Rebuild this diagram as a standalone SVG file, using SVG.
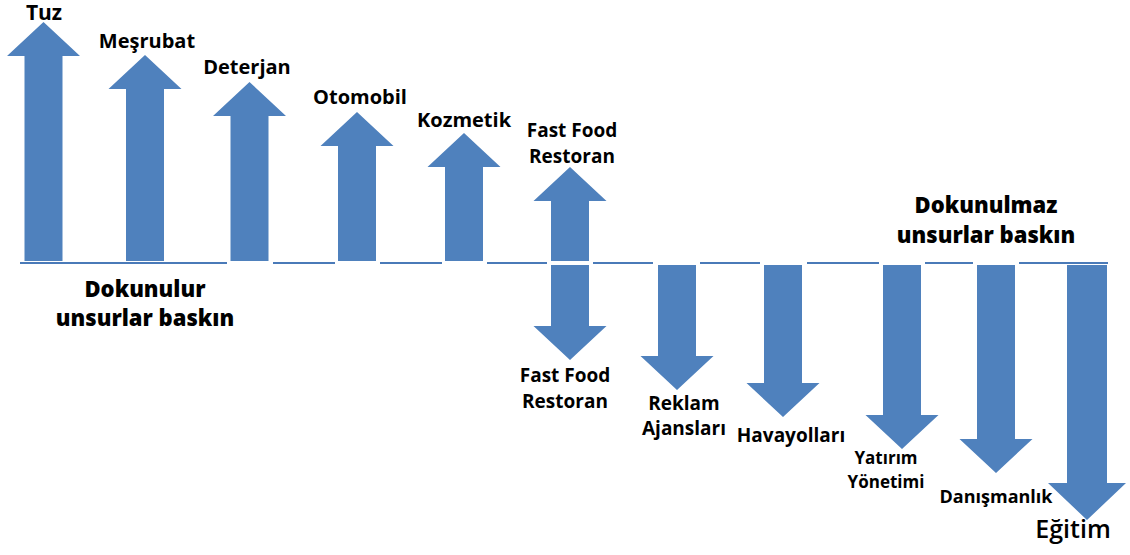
<svg xmlns="http://www.w3.org/2000/svg" width="1130" height="555" viewBox="0 0 1130 555">
<style>
.arr{fill:#4f81bd}
.base{stroke:#4a7ab8;stroke-width:2;fill:none}
.lbl{font-family:"Open Sans","Liberation Sans",sans-serif;font-weight:bold;font-size:19px;fill:#000;text-anchor:middle}
.big{font-family:"Open Sans","Liberation Sans",sans-serif;font-weight:800;font-size:22px;fill:#000;text-anchor:middle}
</style>
<rect width="1130" height="555" fill="#fff"/>
<g id="baseline" class="base">
<path d="M20 263H227M273 263H335M380 263H442M487 263H547M593 263H653M700 263H760M807 263H879M925 263H973M1019 263H1108"/>
</g>
<g id="tuz"><path class="arr" d="M43.5 22L80 56H62.5V261H24.5V56H7Z"/><text class="lbl" x="44" y="20" style="font-size:21px">Tuz</text></g>
<g id="mesrubat"><path class="arr" d="M145 55L181.5 89H164V261H126V89H108.5Z"/><text class="lbl" x="147" y="48" style="font-size:20px">Meşrubat</text></g>
<g id="deterjan"><path class="arr" d="M249.5 82L286 116H268.5V261H230.5V116H213Z"/><text class="lbl" x="247" y="74" style="font-size:20px">Deterjan</text></g>
<g id="otomobil"><path class="arr" d="M357 112L393.5 146H376V261H338V146H320.5Z"/><text class="lbl" x="360" y="104" style="font-size:20px">Otomobil</text></g>
<g id="kozmetik"><path class="arr" d="M464 133L500.5 167H483V261H445V167H427.5Z"/><text class="lbl" x="464" y="127" style="font-size:20px">Kozmetik</text></g>
<g id="fastfood-up"><path class="arr" d="M570 167L606.5 201H589V261H551V201H533.5Z"/><text class="lbl" x="572" y="137">Fast Food</text><text class="lbl" x="572" y="163">Restoran</text></g>
<g id="dokunulur"><text class="big" x="145" y="297">Dokunulur</text><text class="big" x="145" y="326">unsurlar baskın</text></g>
<g id="dokunulmaz"><text class="big" x="986" y="213">Dokunulmaz</text><text class="big" x="986" y="243">unsurlar baskın</text></g>
<g id="fastfood-down"><path class="arr" d="M570 360L606.5 326H589V265H551V326H533.5Z"/><text class="lbl" x="565" y="382">Fast Food</text><text class="lbl" x="565" y="408">Restoran</text></g>
<g id="reklam"><path class="arr" d="M677 390L713.5 356H696V265H658V356H640.5Z"/><text class="lbl" x="684" y="410">Reklam</text><text class="lbl" x="684" y="435">Ajansları</text></g>
<g id="havayollari"><path class="arr" d="M783 417L819.5 383H802V265H764V383H746.5Z"/><text class="lbl" x="791" y="442">Havayolları</text></g>
<g id="yatirim"><path class="arr" d="M902 449L938.5 415H921V265H883V415H865.5Z"/><text class="lbl" x="886" y="464" style="font-size:17px">Yatırım</text><text class="lbl" x="886" y="488" style="font-size:17px">Yönetimi</text></g>
<g id="danismanlik"><path class="arr" d="M996 473L1032.5 439H1015V265H977V439H959.5Z"/><text class="lbl" x="996" y="503" style="font-size:18px">Danışmanlık</text></g>
<g id="egitim"><path class="arr" d="M1087 520L1126 483H1107V265H1067V483H1048Z"/><text class="lbl" x="1073" y="538" style="font-size:25px;font-weight:600">Eğitim</text></g>
</svg>
